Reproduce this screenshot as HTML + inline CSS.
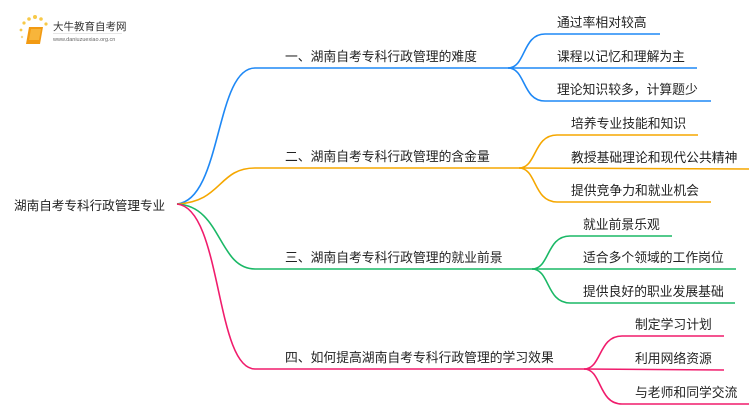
<!DOCTYPE html>
<html><head><meta charset="utf-8"><style>
html,body{margin:0;padding:0;background:#fff;}
body{width:750px;height:410px;overflow:hidden;position:relative;font-family:"Liberation Sans","Noto Sans CJK SC",sans-serif;}
svg{position:absolute;left:0;top:0;}
text{font-family:"Liberation Sans","Noto Sans CJK SC",sans-serif;fill:#222;font-size:12.8px;}
</style></head><body>
<svg width="750" height="410" viewBox="0 0 750 410">
<g>
<circle cx="24" cy="23" r="1.6" fill="#f7c948"/><circle cx="29" cy="19" r="1.8" fill="#f7c948"/><circle cx="35" cy="17" r="2" fill="#f7c948"/><circle cx="41" cy="19" r="1.8" fill="#f7c948"/><circle cx="46" cy="24" r="1.6" fill="#f7c948"/><circle cx="21" cy="30" r="1.4" fill="#f7c948"/><circle cx="22" cy="37" r="1.2" fill="#f7d98a"/>
<path d="M29 27 L43 27 L40 44 L26 44 Z" fill="#f29a12"/>
<path d="M31 29 L41 29 L39 40 L29 40 Z" fill="#f7b53b"/>
<text x="53" y="30" style="font-size:10.5px;fill:#333">大牛教育自考网</text>
<line x1="53" y1="33.5" x2="122" y2="33.5" stroke="#ccc" stroke-width="0.5"/>
<text x="53" y="41" style="font-size:5.5px;fill:#666">www.daniuzuexiao.org.cn</text>
</g>
<text x="14" y="210" style="font-size:12.6px">湖南自考专科行政管理专业</text>
<g fill="none" stroke-width="1.6">
<g stroke="#1e88f5">
<path d="M177 204 C222 200 215 68 255 68 L508 68"/>
<path d="M508 68 C526 68 522 34 545 34 L660 34"/>
<path d="M508 68 L697 68"/>
<path d="M508 68 C526 68 522 101 545 101 L711 101"/>
</g>
<g stroke="#f5a700">
<path d="M177 204 C222 202 218 168 255 168 L519 168"/>
<path d="M519 168 C537 168 533 135 557 135 L698 135"/>
<path d="M519 168 L749 169"/>
<path d="M519 168 C537 168 533 202 557 202 L711 202"/>
</g>
<g stroke="#1ab866">
<path d="M177 204 C222 206 218 269 255 269 L532 269"/>
<path d="M532 269 C550 269 546 236 570 236 L672 236"/>
<path d="M532 269 L736 269"/>
<path d="M532 269 C550 269 546 303 570 303 L735 303"/>
</g>
<g stroke="#f01c6c">
<path d="M177 204 C222 208 215 369 255 369 L584 369"/>
<path d="M584 369 C602 369 598 336 622 336 L724 336"/>
<path d="M584 369 L724 370"/>
<path d="M584 369 C602 369 598 404 622 404 L749 404"/>
</g>
</g>
<text x="285" y="61">一、湖南自考专科行政管理的难度</text>
<text x="285" y="161">二、湖南自考专科行政管理的含金量</text>
<text x="285" y="262">三、湖南自考专科行政管理的就业前景</text>
<text x="285" y="362">四、如何提高湖南自考专科行政管理的学习效果</text>
<text x="557" y="27">通过率相对较高</text>
<text x="557" y="61">课程以记忆和理解为主</text>
<text x="557" y="94">理论知识较多，计算题少</text>
<text x="571" y="128">培养专业技能和知识</text>
<text x="571" y="162">教授基础理论和现代公共精神</text>
<text x="571" y="195">提供竞争力和就业机会</text>
<text x="583" y="229">就业前景乐观</text>
<text x="583" y="262">适合多个领域的工作岗位</text>
<text x="583" y="296">提供良好的职业发展基础</text>
<text x="635" y="329">制定学习计划</text>
<text x="635" y="363">利用网络资源</text>
<text x="635" y="397">与老师和同学交流</text>
</svg>
</body></html>
